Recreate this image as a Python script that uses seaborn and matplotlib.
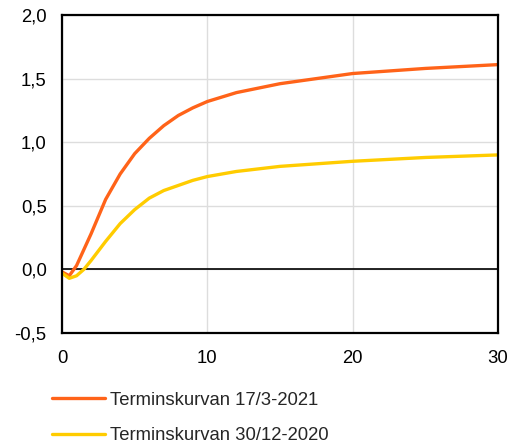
import seaborn as sns
import matplotlib.pyplot as plt
import matplotlib.ticker as mticker
import pandas as pd

# löptid (år) och terminsräntor (%)
x_mar = [0, 0.5, 1, 2, 3, 4, 5, 6, 7, 8, 9, 10, 12, 15, 20, 25, 30]
y_mar = [-0.02, -0.05, 0.03, 0.28, 0.55, 0.75, 0.91, 1.03, 1.13, 1.21, 1.27, 1.32, 1.39, 1.46, 1.54, 1.58, 1.61]
x_dec = [0, 0.5, 1, 1.5, 2, 3, 4, 5, 6, 7, 8, 9, 10, 12, 15, 20, 25, 30]
y_dec = [-0.03, -0.07, -0.05, 0.0, 0.07, 0.22, 0.36, 0.47, 0.56, 0.62, 0.66, 0.70, 0.73, 0.77, 0.81, 0.85, 0.88, 0.90]
labels = ['Terminskurvan 17/3-2021', 'Terminskurvan 30/12-2020']
colors = ['#FF6319', '#FFCC00']

df = pd.concat([
    pd.DataFrame({'x': x_mar, 'y': y_mar, 'serie': labels[0]}),
    pd.DataFrame({'x': x_dec, 'y': y_dec, 'serie': labels[1]}),
])

sns.set_style('white')
plt.rcParams['font.family'] = ['Liberation Sans', 'DejaVu Sans']

fig = plt.figure(figsize=(5.13, 4.44), dpi=100)
ax = fig.add_axes([0.1209, 0.25, 0.8499, 0.7162])

ax.grid(True, color='#DDDDDD', linewidth=1)
ax.set_axisbelow(True)
ax.axhline(0, color='black', linewidth=1.2, zorder=1.5)

sns.lineplot(data=df, x='x', y='y', hue='serie', palette=colors,
             linewidth=2.4, ax=ax, legend=False, sort=False)

ax.set_xlim(0, 30)
ax.set_ylim(-0.5, 2.0)
ax.set_xticks([0, 10, 20, 30])
ax.set_yticks([-0.5, 0, 0.5, 1.0, 1.5, 2.0])
ax.yaxis.set_major_formatter(mticker.FuncFormatter(lambda v, p: f'{v:.1f}'.replace('.', ',')))
ax.tick_params(length=0, labelsize=13.3, colors='black')
ax.tick_params(axis='y', pad=11)
ax.tick_params(axis='x', pad=12)
ax.set_xlabel('')
ax.set_ylabel('')
for s in ax.spines.values():
    s.set_color('black')
    s.set_linewidth(1.6)

handles = [plt.Line2D([], [], color=c, linewidth=2.4) for c in colors]
fig.legend(handles, labels, loc='upper left', bbox_to_anchor=(0.101, 0.118),
           frameon=False, fontsize=13.3, handlelength=2.9, handletextpad=0.27,
           labelspacing=1.0, borderaxespad=0, borderpad=0)

fig.savefig('out.png', dpi=100)
